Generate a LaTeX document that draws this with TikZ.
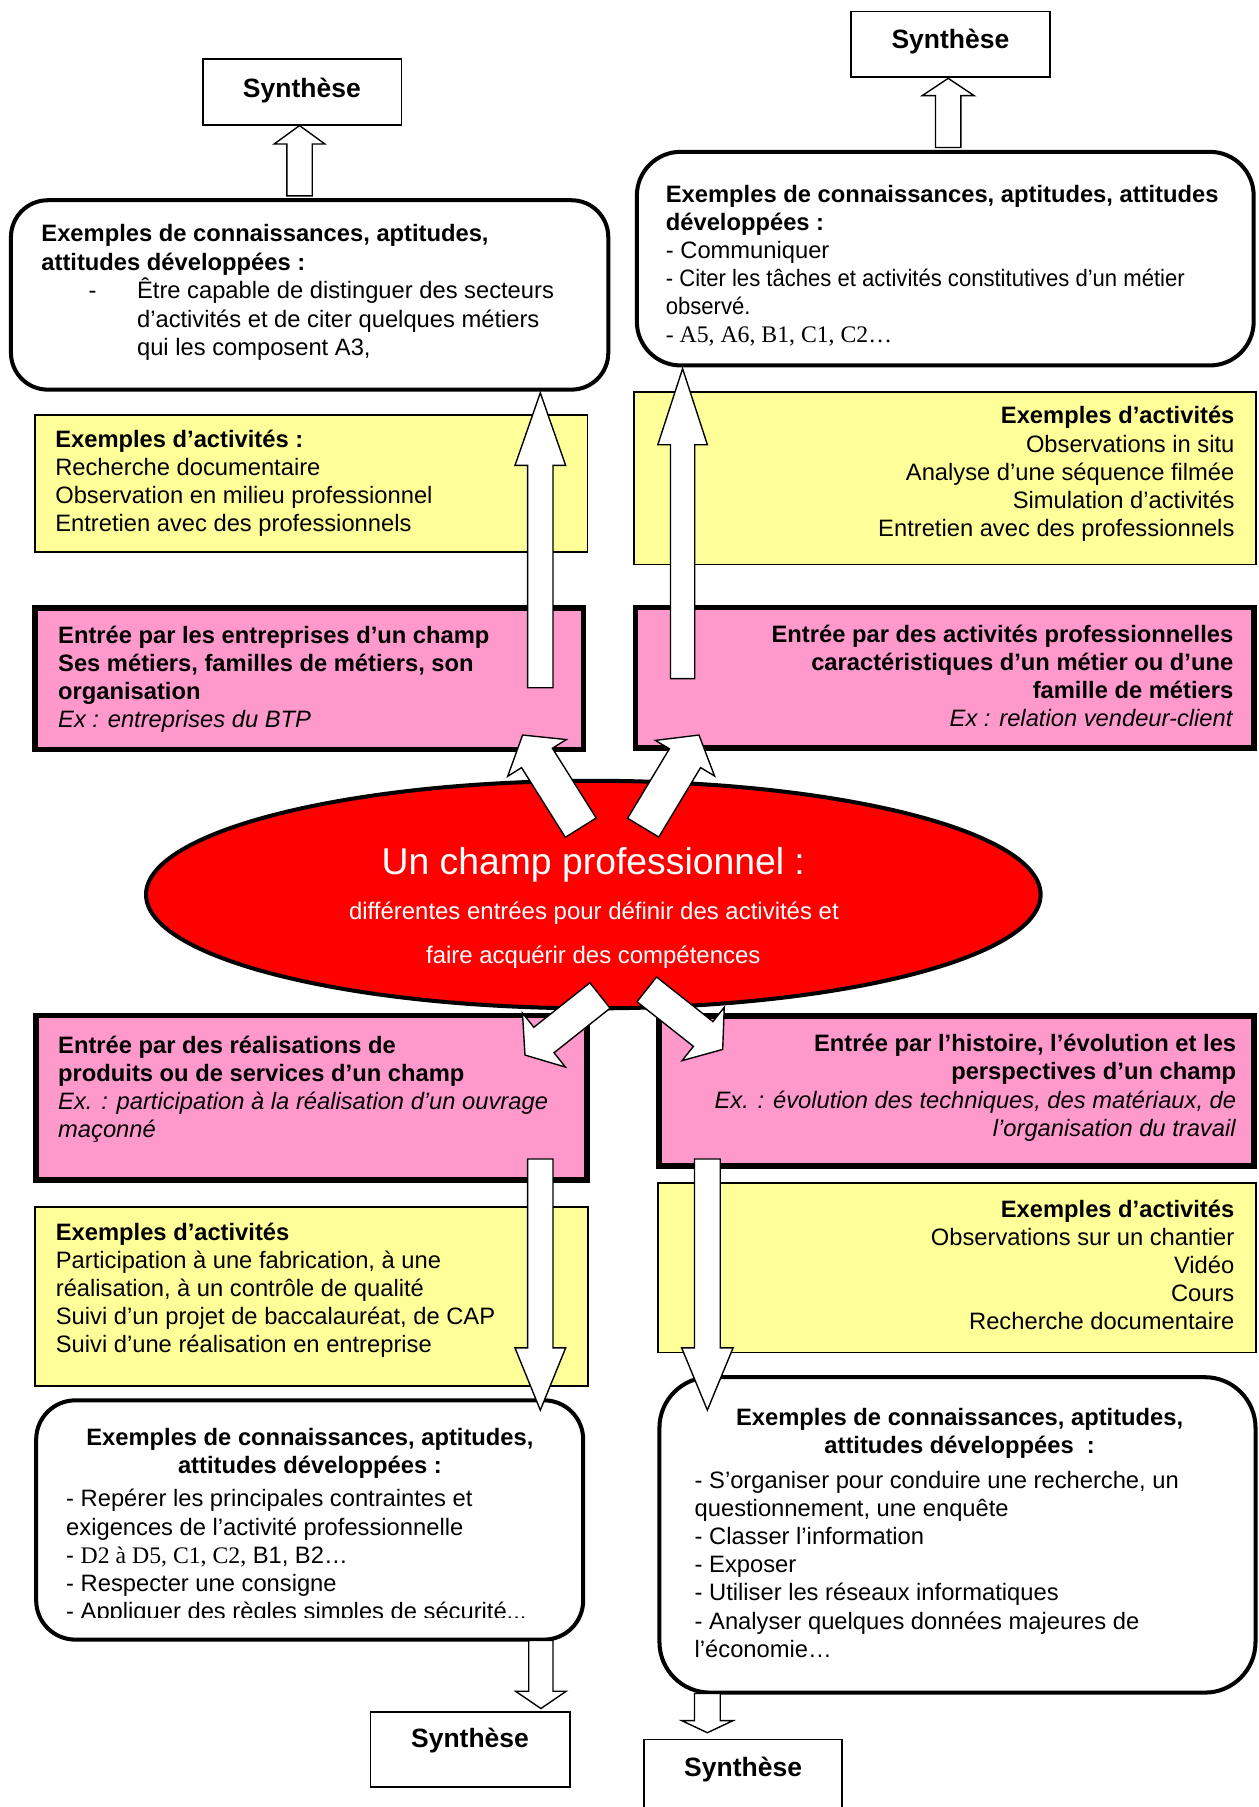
\documentclass[tikz,border=0pt]{standalone}
\usepackage{fontspec}
\usepackage{graphicx}
\setmainfont{Liberation Sans}
\newfontfamily\tnr{Liberation Serif}
\usetikzlibrary{calc,fit,shapes.geometric}
\definecolor{pinkc}{HTML}{FF99CC}
\definecolor{yelc}{HTML}{FFFF99}
\newcommand{\fs}{\rule{0pt}{10pt}}
% block arrow: #1 tail coordinate, #2 tip coordinate, #3 half shaft width, #4 half head width, #5 head length
\newcommand{\blockarrow}[5]{%
  \coordinate (bas) at ($(#2)!#5!(#1)$);
  \draw[barrow] ($(#1)!#3!90:(#2)$) -- ($(bas)!#3!90:(#2)$) -- ($(bas)!#4!90:(#2)$) -- (#2)
    -- ($(bas)!#4!-90:(#2)$) -- ($(bas)!#3!-90:(#2)$) -- ($(#1)!#3!-90:(#2)$) -- cycle;}
\begin{document}
\begin{tikzpicture}[x=0.5pt,y=-0.5pt,
  barrow/.style={draw=black, fill=white, line width=0.6pt, line join=miter},
  sbox/.style={draw, line width=0.75pt, inner sep=0pt, fill=white},
  rbox/.style={draw, line width=1.75pt, inner sep=0pt, fill=white},
  ybox/.style={draw, line width=0.75pt, fill=yelc, inner sep=0pt},
  pbox/.style={draw, line width=2.5pt, fill=pinkc, inner sep=0pt},
  txt/.style={inner sep=0pt, outer sep=0pt, font=\fontsize{10.3}{12.2}\selectfont, align=left, anchor=north west},
  txtr/.style={txt, align=right, anchor=north east},
  txtc/.style={txt, align=center, anchor=north},
  synt/.style={inner sep=0pt, font=\fontsize{11.5}{13}\selectfont\bfseries, anchor=base},
  etxt/.style={inner sep=0pt, text=white, anchor=base}]
\useasboundingbox (0,0) rectangle (1092,1568.5);

% Synthese boxes
\node[sbox, fit={(176,51.5) (348.6,108.5)}] (S1) {};
\node[sbox, fit={(738.5,10) (911.4,67)}] (S2) {};
\node[sbox, fit={(321.5,1486) (495,1551)}] (S3) {};
\node[sbox, fit={(559,1510) (731,1600)}] (S4) {};

% rounded boxes
\node[rbox, rounded corners=16pt, fit={(9.5,173.8) (528,338.2)}] (TL) {};
\node[rbox, rounded corners=19pt, fit={(552.8,131.8) (1088.2,317.2)}] (TR) {};
\node[rbox, rounded corners=17pt, fit={(31.4,1215.5) (506.2,1423.2)}] (RL) {};
\node[rbox, rounded corners=22pt, fit={(572.4,1195.4) (1089.8,1469.2)}] (RR) {};

% yellow boxes
\node[ybox, fit={(30.3,360.2) (510,479.4)}] (YL1) {};
\node[ybox, fit={(550.5,340) (1090.5,489.9)}] (YR1) {};
\node[ybox, fit={(30.3,1047.8) (510.6,1203)}] (YL2) {};
\node[ybox, fit={(571,1026.6) (1090,1174)}] (YR2) {};

% pink boxes
\node[pbox, fit={(30.5,527.5) (506.5,650.5)}] (PL1) {};
\node[pbox, fit={(551.7,527.3) (1088.5,649)}] (PR1) {};
\node[pbox, fit={(31,881.5) (509.5,1024.5)}] (PL2) {};
\node[pbox, fit={(572,881.7) (1088.5,1012.4)}] (PR2) {};

% central ellipse
\node[ellipse, draw, line width=1.75pt, fill=red, inner sep=0pt,
      minimum width=388.25pt, minimum height=98.75pt] (E) at (515,776.5) {};
\node[etxt, font=\fontsize{16.2}{19}\selectfont] (et1) at (515,758.7) {Un champ professionnel :};
\node[etxt, font=\fontsize{10.4}{12}\selectfont] (et2) at (515.5,798) {différentes entrées pour définir des activités et};
\node[etxt, font=\fontsize{10.4}{12}\selectfont] (et3) at (515,836.2) {faire acquérir des compétences};

% Synthese texts
\node[synt] (s1t) at (262,84.4) {Synthèse};
\node[synt] (s2t) at (825,42.4) {Synthèse};
\node[synt] (s3t) at (408,1517) {Synthèse};
\node[synt] (s4t) at (645,1542) {Synthèse};

% top-left rounded box text
\node[txt] (tlh) at (36,190) {\fs\textbf{Exemples de connaissances, aptitudes,}\\\textbf{attitudes développées :}};
\node[txt] (tld) at (77,239.5) {\fs-};
\node[txt] (tll) at (119,239.5) {\fs Être capable de distinguer des secteurs\\d’activités et de citer quelques métiers\\qui les composent A3,};

% top-right rounded box text
\node[txt] (trt) at (578,155.5) {\fs\textbf{Exemples de connaissances, aptitudes, attitudes}\\\textbf{développées :}\\- Communiquer\\\scalebox{0.93}[1]{- Citer les tâches et activités constitutives d’un métier}\\\scalebox{0.93}[1]{observé.}\\{\tnr - A5, A6, B1, C1, C2…}};

% yellow texts
\node[txt] (yl1t) at (48,368.5) {\fs\textbf{Exemples d’activités :}\\Recherche documentaire\\Observation en milieu professionnel\\Entretien avec des professionnels};
\node[txtr] (yr1t) at (1071.5,348) {\fs\textbf{Exemples d’activités}\\Observations in situ\\Analyse d’une séquence filmée\\Simulation d’activités\\Entretien avec des professionnels};
\node[txt] (yl2t) at (48.5,1056.5) {\fs\textbf{Exemples d’activités}\\Participation à une fabrication, à une\\réalisation, à un contrôle de qualité\\Suivi d’un projet de baccalauréat, de CAP\\Suivi d’une réalisation en entreprise};
\node[txtr] (yr2t) at (1071.4,1036.5) {\fs\textbf{Exemples d’activités}\\Observations sur un chantier\\Vidéo\\Cours\\Recherche documentaire};

% pink texts
\node[txt] (pl1t) at (50.5,538.5) {\fs\textbf{Entrée par les entreprises d’un champ}\\\textbf{Ses métiers, familles de métiers, son}\\\textbf{organisation}\\\textit{Ex : entreprises du BTP}};
\node[txtr] (pr1t) at (1070.5,537.8) {\fs\textbf{Entrée par des activités professionnelles}\\\textbf{caractéristiques d’un métier ou d’une}\\\textbf{famille de métiers}\\\textit{Ex : relation vendeur-client}};
\node[txt] (pl2t) at (50.5,894.5) {\fs\textbf{Entrée par des réalisations de}\\\textbf{produits ou de services d’un champ}\\\textit{Ex. : participation à la réalisation d’un ouvrage}\\\textit{maçonné}};
\node[txtr] (pr2t) at (1073,893) {\fs\textbf{Entrée par l’histoire, l’évolution et les}\\\textbf{perspectives d’un champ}\\\textit{Ex. : évolution des techniques, des matériaux, de}\\\textit{l’organisation du travail}};

% bottom rounded boxes text
\node[txtc] (rlh) at (269,1234.5) {\fs\textbf{Exemples de connaissances, aptitudes,}\\\textbf{attitudes développées :}};
\begin{scope}
\clip (31,1216) rectangle (506,1404);
\node[txt] (rll) at (57.5,1288) {\fs- Repérer les principales contraintes et\\exigences de l’activité professionnelle\\- {\tnr D2 à D5, C1, C2,} B1, B2…\\- Respecter une consigne\\- Appliquer des règles simples de sécurité...};
\end{scope}
\node[txtc] (rrh) at (833,1217) {\fs\textbf{Exemples de connaissances, aptitudes,}\\\textbf{attitudes développées~ :}};
\node[txt] (rrl) at (603,1272) {\fs- S’organiser pour conduire une recherche, un\\questionnement, une enquête\\- Classer l’information\\- Exposer\\- Utiliser les réseaux informatiques\\- Analyser quelques données majeures de\\l’économie…};

% arrow end points
\coordinate (a1a) at (260,170);   \coordinate (a1b) at (260,109);
\coordinate (a2a) at (823,128);   \coordinate (a2b) at (823,68);
\coordinate (a3a) at (469,597);   \coordinate (a3b) at (469,341);
\coordinate (a4a) at (592.5,589); \coordinate (a4b) at (592.5,320);
\coordinate (a5a) at (469,1006);  \coordinate (a5b) at (469,1224);
\coordinate (a6a) at (614,1006);  \coordinate (a6b) at (614,1224);
\coordinate (a7a) at (469.5,1424);\coordinate (a7b) at (469.5,1483);
\coordinate (a8a) at (614,1470);  \coordinate (a8b) at (614,1504);
\coordinate (d1a) at (504.1,718.4); \coordinate (d1b) at (453.6,638);
\coordinate (d2a) at (558.3,718.4); \coordinate (d2b) at (606.7,638);
\coordinate (d3a) at (520.8,864.1); \coordinate (d3b) at (455.7,915.8);
\coordinate (d4a) at (561.4,858.8); \coordinate (d4b) at (627.3,910.9);

\blockarrow{a1a}{a1b}{5.5pt}{11pt}{8pt}
\blockarrow{a2a}{a2b}{5.5pt}{11.25pt}{7.5pt}
\blockarrow{a3a}{a3b}{5.5pt}{11pt}{31.5pt}
\blockarrow{a4a}{a4b}{5.25pt}{10.75pt}{33pt}
\blockarrow{a5a}{a5b}{5.5pt}{11pt}{27pt}
\blockarrow{a6a}{a6b}{5.6pt}{11.15pt}{27pt}
\blockarrow{a7a}{a7b}{5.25pt}{11pt}{7.5pt}
\blockarrow{a8a}{a8b}{5.6pt}{11.15pt}{5.25pt}
\blockarrow{d1a}{d1b}{7.9pt}{15pt}{11.75pt}
\blockarrow{d2a}{d2b}{7.9pt}{15pt}{11.75pt}
\blockarrow{d3a}{d3b}{7.05pt}{15pt}{10.5pt}
\blockarrow{d4a}{d4b}{6.85pt}{14.75pt}{10.8pt}
\end{tikzpicture}
\end{document}
